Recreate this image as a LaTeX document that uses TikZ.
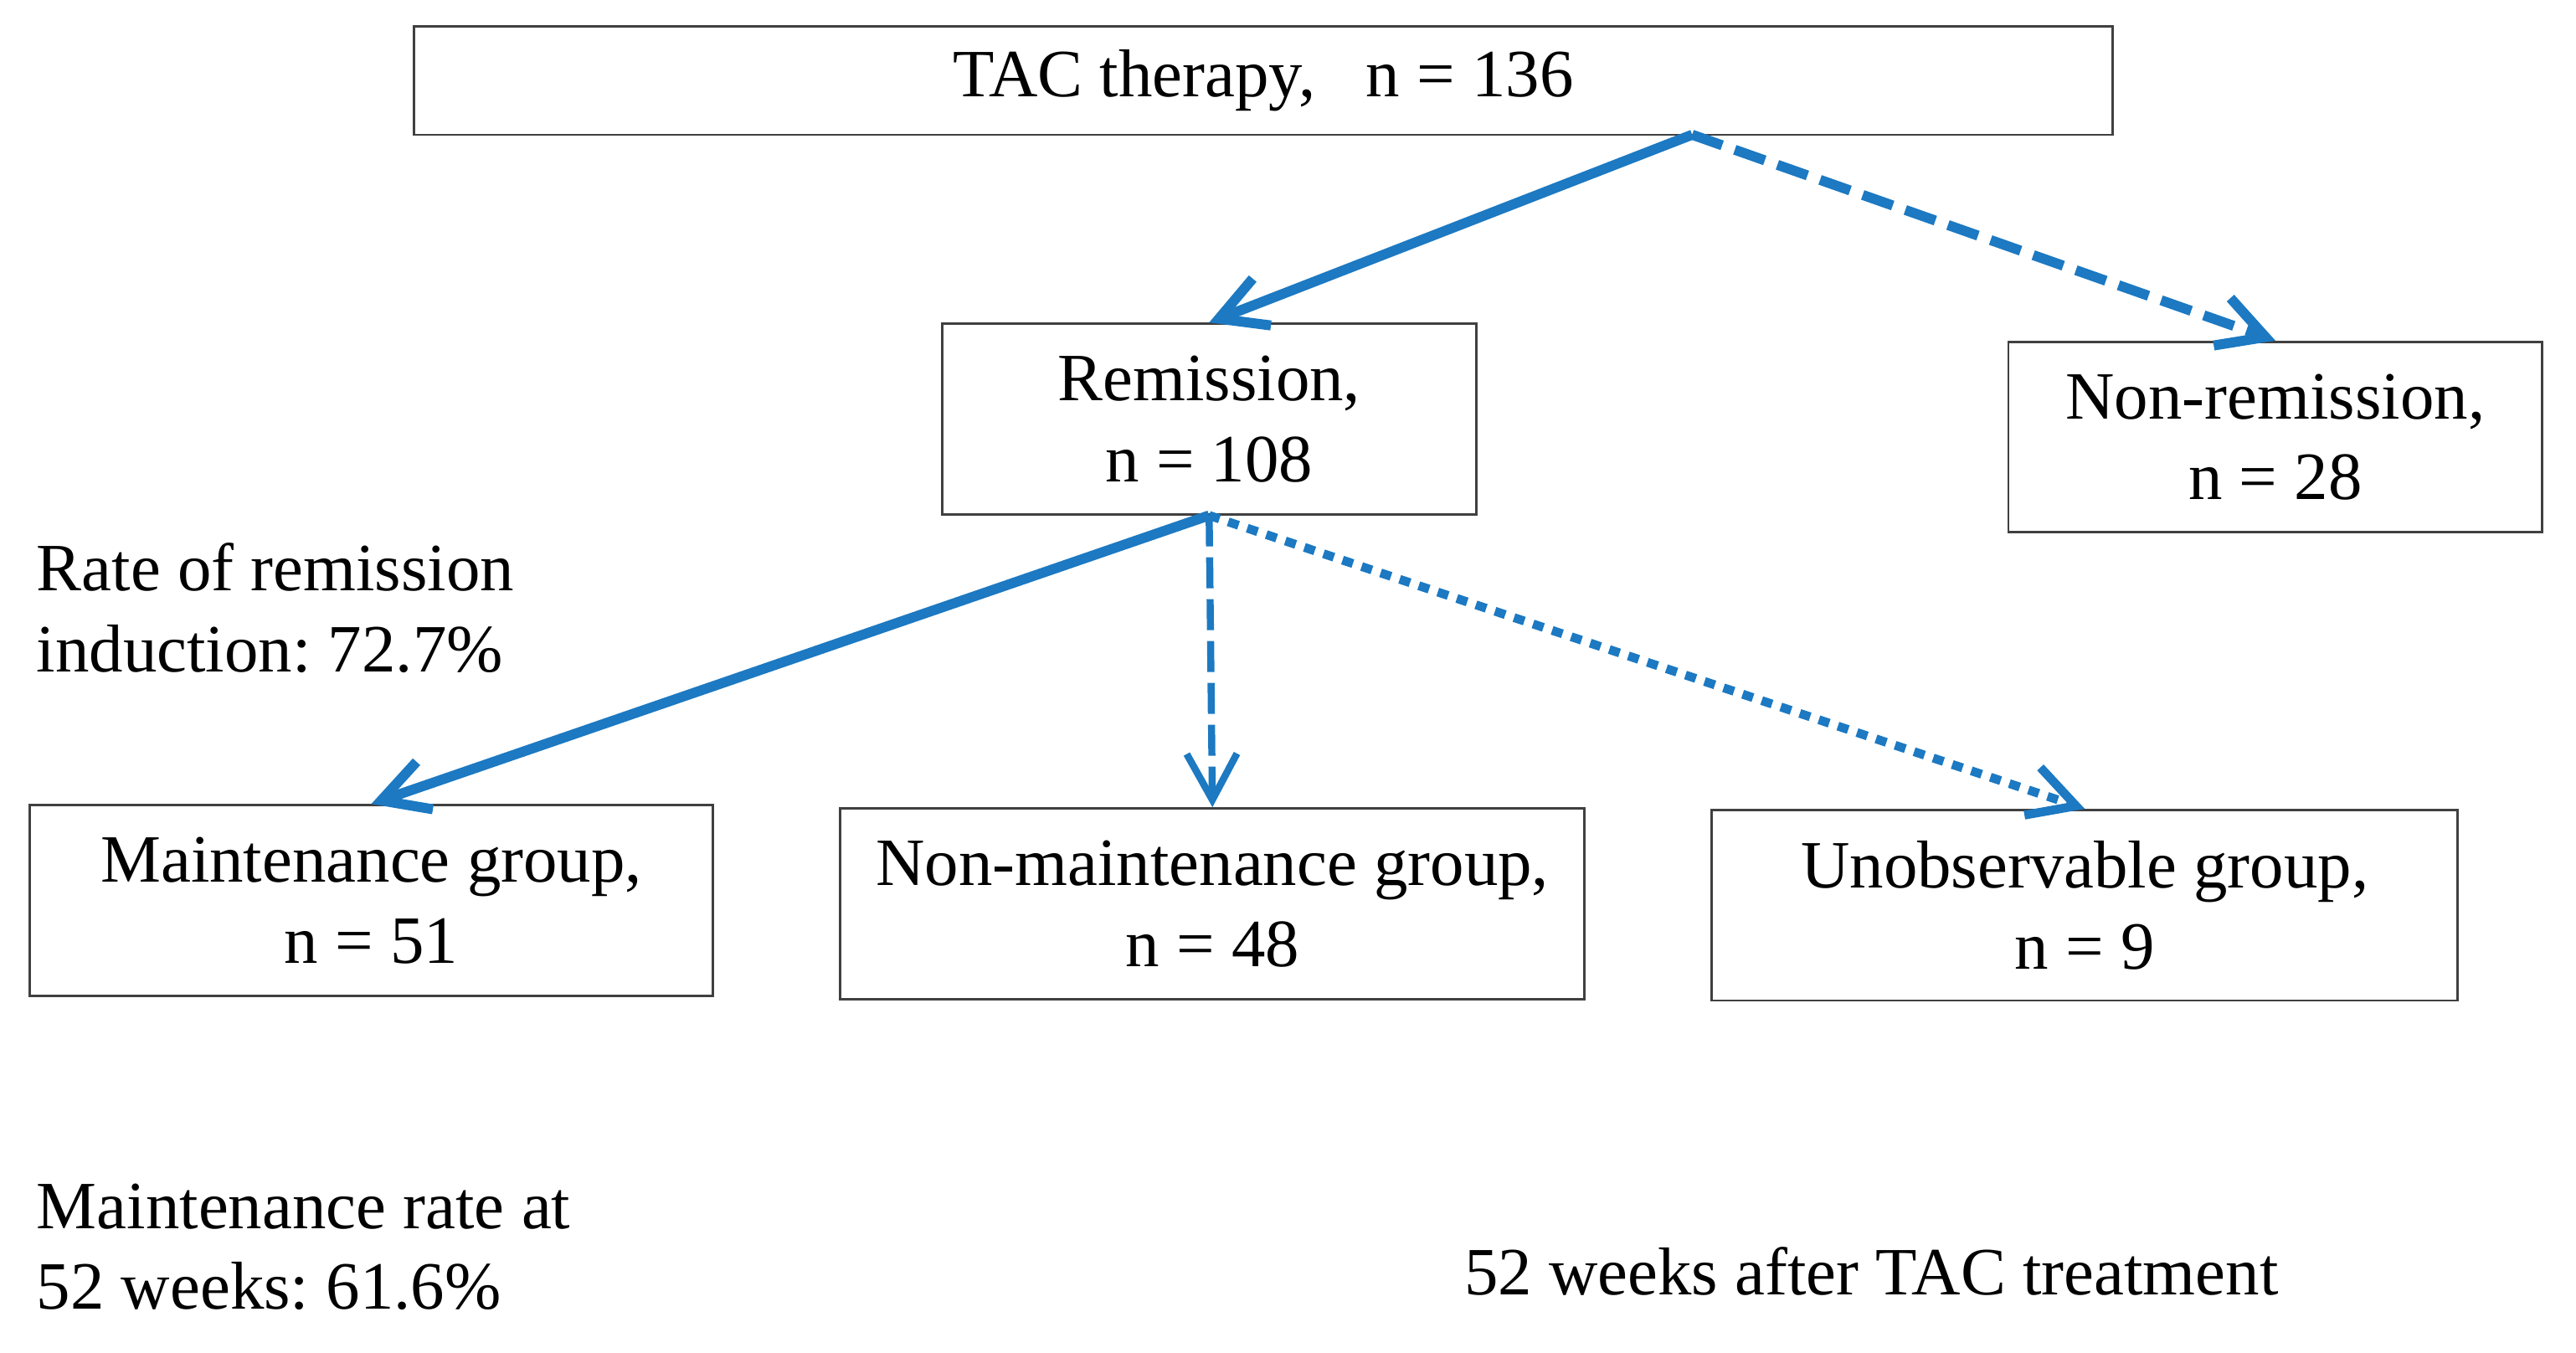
\documentclass[tikz,border=0pt]{standalone}
\usepackage{fontspec}
\setmainfont{Liberation Serif}
\usetikzlibrary{arrows.meta}
\definecolor{flowblue}{RGB}{28,121,194}
\definecolor{boxgray}{RGB}{64,64,64}
\frenchspacing

\begin{document}
\begin{tikzpicture}[x=0.019624cm, y=-0.019624cm,
        font=\fontsize{23}{27.5}\selectfont,
        box/.style={draw=boxgray, line width=0.8pt, align=center, inner sep=0pt, minimum height=2.276cm},
        link/.style={draw=flowblue, -{Straight Barb[length=5.5mm, width=6mm]}},
        note/.style={align=left, anchor=west, inner sep=0pt}]
        \useasboundingbox (0,0) rectangle (1568,823);

        \node[box, minimum width=20.29cm, minimum height=1.295cm] (tac) at (769,49) {TAC therapy,~~~n = 136};
        \node[box, minimum width=6.378cm] (rem) at (736,255) {Remission,\\n = 108};
        \node[box, minimum width=6.378cm] (nonrem) at (1385,266) {Non-remission,\\n = 28};
        \node[box, minimum width=8.164cm] (maint) at (226,548) {Maintenance group,\\n = 51};
        \node[box, minimum width=8.89cm] (nonmaint) at (738,550) {Non-maintenance group,\\n = 48};
        \node[box, minimum width=8.909cm] (unobs) at (1269,551) {Unobservable group,\\n = 9};
        \coordinate (split) at (1030,82);

        \node[note] (rate) at (22,370) {Rate of remission\\induction: 72.7\%};
        \node[note] (mrate) at (22,759) {Maintenance rate at\\52 weeks: 61.6\%};
        \node[note] (weeks) at (891,774) {52 weeks after TAC treatment};

        \draw[link, line width=3.4pt] (split) -- (rem.north);
        \draw[link, line width=3.4pt, dash pattern=on 0.38cm off 0.16cm] (split) -- (nonrem.north);
        \draw[link, line width=3.4pt] (rem.south) -- (maint.north);
        \draw[link, line width=2.4pt, dash pattern=on 0.37cm off 0.13cm] (rem.south) -- (nonmaint.north);
        \draw[link, line width=3pt, dash pattern=on 0.13cm off 0.11cm] (rem.south) -- (unobs.north);
\end{tikzpicture}
\end{document}
